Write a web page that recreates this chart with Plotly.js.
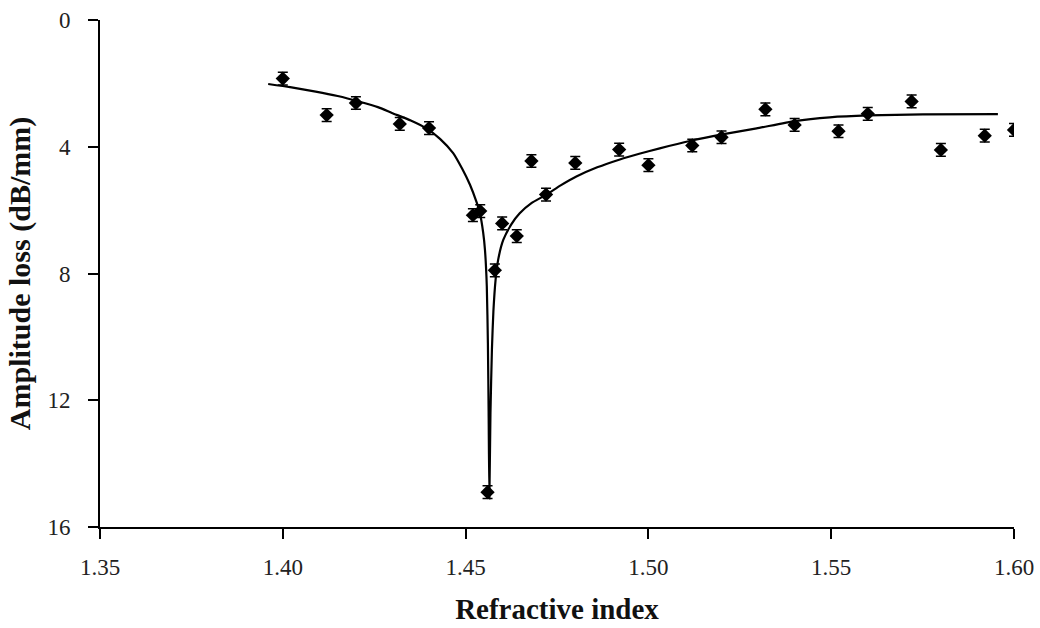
<!DOCTYPE html>
<html>
<head>
<meta charset="utf-8">
<script src="https://cdn.plot.ly/plotly-3.0.1.min.js"></script>
<style>html,body{margin:0;padding:0;background:#fff;}#chart{width:1040px;height:628px;}</style>
</head>
<body>
<div id="chart"></div>
<script>
// Measured data points
const measIndex = [1.400, 1.412, 1.420, 1.432, 1.440, 1.452, 1.454, 1.456, 1.458, 1.460, 1.464, 1.468, 1.472, 1.480, 1.492, 1.500, 1.512, 1.520, 1.532, 1.540, 1.552, 1.560, 1.572, 1.580, 1.592, 1.600];
const measLoss  = [1.85, 3.00, 2.62, 3.28, 3.41, 6.16, 6.03, 14.9, 7.90, 6.42, 6.82, 4.45, 5.51, 4.51, 4.09, 4.58, 3.96, 3.70, 2.82, 3.31, 3.51, 2.96, 2.57, 4.10, 3.65, 3.47];
const measErr   = [0.2, 0.2, 0.2, 0.2, 0.2, 0.2, 0.2, 0.2, 0.2, 0.2, 0.2, 0.2, 0.2, 0.2, 0.2, 0.2, 0.2, 0.2, 0.2, 0.2, 0.2, 0.2, 0.2, 0.2, 0.2, 0.2];

// Fitted curve
const fitIndex = [1.396, 1.402, 1.409, 1.415, 1.421, 1.426, 1.430, 1.435, 1.4393, 1.443, 1.4466, 1.449, 1.4512, 1.4530, 1.4539, 1.4548, 1.4553, 1.4558, 1.4561, 1.4563, 1.4565, 1.4568, 1.4572, 1.4576, 1.4582, 1.4589, 1.4603, 1.4625, 1.4648, 1.468, 1.4721, 1.476, 1.4803, 1.486, 1.4922, 1.4975, 1.5031, 1.5113, 1.5202, 1.5296, 1.540, 1.5496, 1.560, 1.5751, 1.5956];
const fitLoss  = [2.02, 2.12, 2.26, 2.40, 2.58, 2.75, 2.94, 3.17, 3.42, 3.75, 4.20, 4.68, 5.20, 5.75, 6.09, 6.70, 7.26, 8.40, 10.2, 12.4, 15.1, 12.4, 10.4, 9.20, 8.20, 7.57, 6.94, 6.45, 6.10, 5.78, 5.51, 5.22, 4.94, 4.65, 4.40, 4.22, 4.05, 3.82, 3.61, 3.42, 3.19, 3.07, 3.01, 2.98, 2.97];

const xTicks = [1.35, 1.40, 1.45, 1.50, 1.55, 1.60];
const yTicks = [0, 4, 8, 12, 16];

const serif = "Liberation Serif";

const traces = [
  {
    x: fitIndex, y: fitLoss, type: 'scatter', mode: 'lines',
    line: {color: '#000', width: 2.2, shape: 'spline', smoothing: 0.5}, hoverinfo: 'skip', showlegend: false
  },
  {
    x: measIndex, y: measLoss, type: 'scatter', mode: 'markers',
    marker: {symbol: 'diamond', size: 11, color: '#000'},
    error_y: {type: 'data', array: measErr, visible: true, color: '#000', thickness: 1.5, width: 5},
    showlegend: false
  }
];

const layout = {
  width: 1040, height: 628,
  margin: {l: 100, r: 26, t: 20, b: 101},
  paper_bgcolor: '#fff', plot_bgcolor: '#fff',
  showlegend: false,
  font: {family: serif, color: '#000'},
  xaxis: {
    range: [1.35, 1.60], tickvals: xTicks, ticktext: xTicks.map(v => v.toFixed(2)),
    showgrid: false, zeroline: false, showline: true, linecolor: '#000', linewidth: 2,
    ticks: 'outside', ticklen: 10, tickwidth: 2, tickcolor: '#000',
    tickfont: {family: serif, size: 23, color: '#222'}, ticklabelstandoff: 8,
    title: {text: '<b>Refractive index</b>', font: {family: serif, size: 29, color: '#111'}, standoff: 20}
  },
  yaxis: {
    range: [16, 0], tickvals: yTicks,
    showgrid: false, zeroline: false, showline: true, linecolor: '#000', linewidth: 2,
    ticks: 'outside', ticklen: 10, tickwidth: 2, tickcolor: '#000',
    tickfont: {family: serif, size: 23, color: '#222'}, ticklabelstandoff: 13,
    title: {text: '<b>Amplitude loss (dB/mm)</b>', font: {family: serif, size: 30, color: '#111'}, standoff: 8}
  }
};

Plotly.newPlot('chart', traces, layout, {displayModeBar: false, staticPlot: true});
</script>
</body>
</html>
